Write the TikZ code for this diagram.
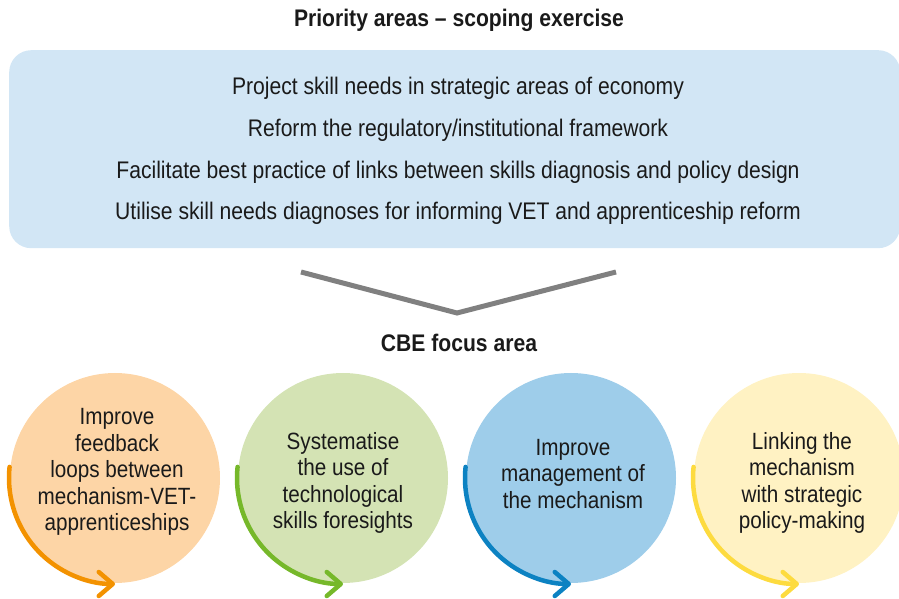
\documentclass[tikz,border=0pt]{standalone}
\usepackage{fontspec}
\setmainfont[FakeStretch=0.88]{Liberation Sans}
\usetikzlibrary{arrows.meta}
\definecolor{boxblue}{HTML}{D2E6F5}
\definecolor{chev}{HTML}{808080}
\definecolor{txt}{HTML}{1A1A1A}
\definecolor{orfill}{HTML}{FDD5A6}
\definecolor{orline}{HTML}{F39200}
\definecolor{grfill}{HTML}{D4E3B4}
\definecolor{grline}{HTML}{76B82A}
\definecolor{blfill}{HTML}{9ECDEA}
\definecolor{blline}{HTML}{0C82C2}
\definecolor{yefill}{HTML}{FFF2C3}
\definecolor{yeline}{HTML}{FDDB3F}
\tikzset{
  heading/.style={font=\fontsize{24}{28}\selectfont\bfseries, text=txt, inner sep=0pt},
  boxline/.style={font=\fontsize{24}{28}\selectfont, text=txt, inner sep=0pt},
  disc/.style={circle, minimum size=210pt, inner sep=0pt, draw=none},
  disctext/.style={font=\fontsize{23.5}{26.5}\selectfont, text=txt, align=center, inner sep=0pt},
  arcline/.style={line width=4.5pt, line cap=round, -{Straight Barb[length=14pt,width=24pt,round]}}
}
\begin{document}
\begin{tikzpicture}[x=1pt,y=1pt]
\useasboundingbox (0,0) rectangle (899,599);
\clip (0,0) rectangle (899,599);
% title
\node[heading] (title) at (459,579) {Priority areas -- scoping exercise};
% box
\node[fill=boxblue, rounded corners=22pt, minimum width=891pt, minimum height=198pt, inner sep=0pt, anchor=north west] (box) at (9,549) {};
\node[boxline] (l1) at (458,511) {Project skill needs in strategic areas of economy};
\node[boxline] (l2) at (458,469) {Reform the regulatory/institutional framework};
\node[boxline] (l3) at (458,427) {Facilitate best practice of links between skills diagnosis and policy design};
\node[boxline] (l4) at (458,386) {Utilise skill needs diagnoses for informing VET and apprenticeship reform};
% chevron
\coordinate (chl) at (301,327);
\coordinate (chm) at (457,286);
\coordinate (chr) at (616,327);
\draw[chev, line width=5pt, line join=miter] (chl) -- (chm) -- (chr);
% CBE
\node[heading] (cbe) at (459,256) {CBE focus area};
% circles
\node[disc, fill=orfill] (c1) at (115,121) {};
\node[disc, fill=grfill] (c2) at (343,121) {};
\node[disc, fill=blfill] (c3) at (571,121) {};
\node[disc, fill=yefill] (c4) at (799,121) {};
\draw[arcline, orline] ([shift={(174:106pt)}]c1.center) arc[start angle=174, end angle=270, radius=106pt];
\draw[arcline, grline] ([shift={(174:106pt)}]c2.center) arc[start angle=174, end angle=270, radius=106pt];
\draw[arcline, blline] ([shift={(174:106pt)}]c3.center) arc[start angle=174, end angle=270, radius=106pt];
\draw[arcline, yeline] ([shift={(174:106pt)}]c4.center) arc[start angle=174, end angle=270, radius=106pt];
\node[disctext] (t1) at (117,127) {Improve\\feedback\\loops between\\mechanism-VET-\\apprenticeships};
\node[disctext] (t2) at (343,116) {Systematise\\the use of\\technological\\skills foresights};
\node[disctext] (t3) at (573,125) {Improve\\management of\\the mechanism};
\node[disctext] (t4) at (802,116) {Linking the\\mechanism\\with strategic\\policy-making};
\end{tikzpicture}
\end{document}
